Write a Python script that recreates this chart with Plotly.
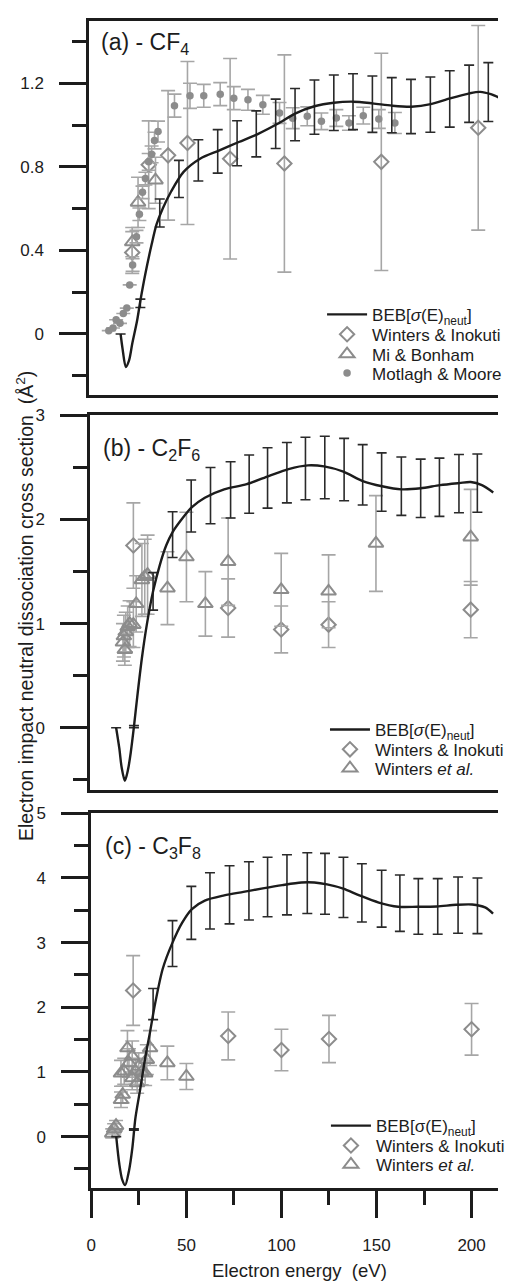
import plotly.graph_objects as go

# ---------------- (a) CF4 ----------------
beb_a_E = [15.5, 16.5, 18.2, 19.9, 21.5, 24.0, 25.7, 28.2, 31.5, 34.0, 37.3, 41.5, 48.0, 56.5, 66.5,
           76.5, 86.5, 96.5, 105.5, 115.5, 125.5, 135.5, 145.5, 155.5, 165.5, 175.5, 185.5, 195.5,
           201.0, 206.5, 211.0]
beb_a_V = [0.0, -0.07, -0.158, -0.125, -0.047, 0.063, 0.159, 0.285, 0.428, 0.523, 0.602, 0.681, 0.776,
           0.839, 0.879, 0.919, 0.958, 1.006, 1.055, 1.09, 1.107, 1.112, 1.104, 1.093, 1.088, 1.100,
           1.128, 1.152, 1.159, 1.148, 1.13]
bebbar_a_E = [15.5, 25.7, 35.7, 45.6, 55.6, 65.6, 75.6, 85.5, 95.5, 105.5, 115.5, 125.5, 135.4,
              145.4, 155.4, 165.3, 175.3, 185.3, 195.3, 205.2]
bebbar_a_V = [0.0, 0.147, 0.579, 0.742, 0.831, 0.874, 0.913, 0.958, 1.006, 1.05, 1.086, 1.107, 1.112,
              1.10, 1.095, 1.089, 1.098, 1.125, 1.15, 1.158]
bebbar_a_err = [0.0, 0.02, 0.067, 0.089, 0.099, 0.104, 0.108, 0.11, 0.118, 0.125, 0.13, 0.133, 0.134,
                0.135, 0.132, 0.13, 0.132, 0.135, 0.137, 0.141]

wi_a_E = [21.5, 30.0, 40.0, 50.0, 72.0, 100.0, 150.0, 200.0]
wi_a_V = [0.39, 0.81, 0.855, 0.914, 0.839, 0.816, 0.824, 0.987]
wi_a_err = [0.10, 0.21, 0.31, 0.39, 0.48, 0.52, 0.52, 0.49]

mb_a_E = [21.5, 24.5, 33.5]
mb_a_V = [0.44, 0.63, 0.736]
mb_a_err = [0.07, 0.12, 0.11]

mm_a_E = [9.4, 11.6, 13.2, 15.2, 16.9, 18.7, 20.2, 21.7, 23.7, 25.2, 26.8, 28.3, 30.0, 31.5, 33.0, 34.8,
          43.3, 51.3, 58.4, 66.9, 73.9, 81.2, 88.9, 97.5, 104.3, 111.8, 119.1, 126.8, 133.3, 140.7,
          148.7, 157.0]
mm_a_V = [0.016, 0.029, 0.068, 0.051, 0.098, 0.124, 0.235, 0.33, 0.466, 0.573, 0.678, 0.744, 0.824, 0.86,
          0.926, 0.969, 1.093, 1.14, 1.14, 1.148, 1.129, 1.121, 1.097, 1.058, 1.033, 1.042, 1.018,
          1.034, 1.01, 1.045, 1.029, 1.01]
mm_a_err = [0, 0, 0, 0, 0, 0, 0, 0.03, 0.03, 0.03, 0.03, 0.03, 0.04, 0.04, 0.04, 0.05, 0.055, 0.06, 0.055,
            0.055, 0.055, 0.05, 0.045, 0.05, 0.05, 0.045, 0.04, 0.04, 0.035, 0.04, 0.045, 0.05]

# ---------------- (b) C2F6 ----------------
beb_b_E = [12.9, 14.6, 15.8, 17.5, 19.2, 20.6, 22.3, 24.0, 26.5, 29.1, 32.4, 35.9, 39.3, 42.7, 47.8,
           52.9, 59.7, 69.9, 81.8, 93.7, 103.9, 114.1, 122.6, 132.8, 143.0, 153.2, 163.4, 173.6,
           183.8, 194.0, 200.0, 205.9, 211.9]
beb_b_V = [0.0, -0.2, -0.38, -0.51, -0.4, -0.24, 0.01, 0.29, 0.67, 0.99, 1.31, 1.56, 1.75, 1.88, 2.01,
           2.12, 2.21, 2.29, 2.34, 2.42, 2.485, 2.52, 2.51, 2.46, 2.37, 2.32, 2.29, 2.30, 2.33, 2.35,
           2.36, 2.33, 2.26]
bebbar_b_E = [12.9, 22.3, 32.4, 42.7, 52.5, 62.7, 73.3, 83.1, 92.8, 103.0, 112.8, 123.0, 133.2, 143.0,
              153.0, 163.4, 173.6, 183.5, 193.8, 203.5]
bebbar_b_V = [0.0, 0.01, 1.31, 1.855, 2.13, 2.23, 2.285, 2.34, 2.40, 2.45, 2.49, 2.50, 2.48, 2.43,
              2.36, 2.32, 2.30, 2.31, 2.345, 2.35]
bebbar_b_err = [0.0, 0.01, 0.18, 0.22, 0.25, 0.27, 0.27, 0.28, 0.29, 0.29, 0.30, 0.30, 0.30, 0.29,
                0.28, 0.28, 0.28, 0.28, 0.28, 0.28]

wi_b_E = [22.0, 72.0, 100.0, 125.0, 200.0]
wi_b_V = [1.75, 1.15, 0.944, 0.99, 1.134]
wi_b_err = [0.41, 0.28, 0.225, 0.22, 0.27]

we_b_E = [16.5, 17.0, 17.5, 18.0, 19.0, 20.0, 22.0, 23.5, 26.5, 28.0, 29.5, 40.0, 50.0, 60.0, 72.0,
          100.0, 125.0, 150.0, 200.0]
we_b_V = [0.82, 0.88, 0.75, 0.92, 0.97, 1.0, 0.99, 1.19, 1.42, 1.45, 1.47, 1.34, 1.64, 1.19, 1.595,
          1.325, 1.31, 1.77, 1.83]
we_b_err = [0.18, 0.2, 0.15, 0.19, 0.2, 0.22, 0.22, 0.27, 0.35, 0.36, 0.38, 0.35, 0.43, 0.31, 0.42,
            0.35, 0.35, 0.46, 0.46]

# ---------------- (c) C3F8 ----------------
beb_c_E = [13.1, 14.7, 16.2, 17.8, 19.8, 21.6, 23.2, 25.8, 28.3, 30.9, 33.5, 37.6, 42.7, 47.8, 52.9,
           59.7, 69.9, 80.0, 90.2, 100.4, 110.5, 117.3, 124.0, 132.5, 141.0, 151.2, 161.4, 171.5,
           181.7, 191.9, 200.3, 207.1, 211.3]
beb_c_V = [0.0, -0.42, -0.66, -0.75, -0.53, -0.17, 0.29, 0.75, 1.21, 1.62, 2.05, 2.6, 3.0, 3.31, 3.52,
           3.65, 3.73, 3.785, 3.84, 3.89, 3.93, 3.93, 3.90, 3.835, 3.73, 3.62, 3.555, 3.555, 3.56,
           3.585, 3.59, 3.545, 3.45]
bebbar_c_E = [13.1, 22.4, 32.5, 42.7, 52.6, 62.4, 72.7, 82.9, 92.7, 102.9, 113.6, 122.9, 132.6, 142.3,
              152.7, 162.3, 172.0, 182.2, 192.9, 203.1]
bebbar_c_V = [0.0, 0.11, 2.05, 2.985, 3.46, 3.645, 3.74, 3.80, 3.86, 3.895, 3.92, 3.91, 3.855, 3.77,
              3.68, 3.61, 3.56, 3.56, 3.58, 3.57]
bebbar_c_err = [0.0, 0.01, 0.24, 0.355, 0.41, 0.435, 0.45, 0.45, 0.46, 0.465, 0.47, 0.47, 0.465, 0.45,
                0.44, 0.435, 0.43, 0.43, 0.435, 0.43]

wi_c_E = [22.0, 72.0, 100.0, 125.0, 200.0]
wi_c_V = [2.26, 1.557, 1.34, 1.51, 1.66]
wi_c_err = [0.54, 0.37, 0.32, 0.365, 0.40]

we_c_E = [11.0, 12.0, 13.0, 15.6, 16.5, 15.6, 17.3, 19.0, 19.8, 21.5, 21.5, 23.2, 24.1, 24.9, 26.5,
          28.3, 29.2, 30.9, 40.0, 50.0]
we_c_V = [0.05, 0.12, 0.17, 0.57, 0.65, 0.98, 1.01, 1.37, 1.14, 1.24, 0.906, 1.01, 0.83, 1.086, 1.0,
          0.98, 1.19, 1.37, 1.14, 0.93]
we_c_err = [0.07, 0.08, 0.08, 0.12, 0.13, 0.2, 0.2, 0.27, 0.22, 0.24, 0.18, 0.2, 0.16, 0.21, 0.2,
            0.19, 0.23, 0.27, 0.26, 0.2]

# ---------------- styling ----------------
FONT = "Liberation Sans, Arial, Helvetica, sans-serif"
INK = "#1c1c1c"
GREY = "#8c8c8c"
GREY_BAR = "#a6a6a6"
W, H = 510, 1283


def py(px):
    """pixel row (from top) -> paper y"""
    return 1 - px / H


fig = go.Figure()
legend_rows = {}   # legend id -> (text left px, row centre px)


def add_panel(n, beb_E, beb_V, bar_E, bar_V, bar_err, series, rows, text_x, sigma_italic=True):
    xa = "x" if n == 1 else f"x{n}"
    ya = "y" if n == 1 else f"y{n}"
    sig = "<i>σ</i>" if sigma_italic else "σ"
    ids = [f"legend{n}{k}" for k in range(len(rows))]
    for lid, row in zip(ids, rows):
        legend_rows[lid] = (text_x, row)
    # experimental data (grey) first so the BEB curve sits on top
    for lid, (name, E, V, err, sym, size, lw) in zip(ids[1:], series):
        fig.add_trace(go.Scatter(
            x=E, y=V, mode="markers", xaxis=xa, yaxis=ya, legend=lid, name=name,
            error_y=dict(type="data", array=err, visible=True, color=GREY_BAR,
                         thickness=1.6, width=7),
            marker=dict(symbol=sym, size=size, color=GREY, line=dict(color=GREY, width=lw)),
        ))
    # BEB uncertainty bars
    fig.add_trace(go.Scatter(
        x=bar_E, y=bar_V, mode="markers", xaxis=xa, yaxis=ya, showlegend=False,
        marker=dict(size=1, color="rgba(0,0,0,0)"),
        error_y=dict(type="data", array=bar_err, visible=True, color="#2a2a2a",
                     thickness=1.6, width=5),
        hoverinfo="skip",
    ))
    # BEB curve
    fig.add_trace(go.Scatter(
        x=beb_E, y=beb_V, mode="lines", xaxis=xa, yaxis=ya, legend=ids[0],
        name=f"BEB[{sig}(E)<sub>neut</sub>]",
        line=dict(color=INK, width=2.4, shape="spline", smoothing=0.8),
    ))


add_panel(1, beb_a_E, beb_a_V, bebbar_a_E, bebbar_a_V, bebbar_a_err, [
    ("Winters &amp; Inokuti", wi_a_E, wi_a_V, wi_a_err, "diamond-open", 11, 2),
    ("Mi &amp; Bonham", mb_a_E, mb_a_V, mb_a_err, "triangle-up-open", 13, 2),
    ("Motlagh &amp; Moore", mm_a_E, mm_a_V, mm_a_err, "circle", 7.5, 0),
], rows=[308, 328, 348, 367], text_x=378)
add_panel(2, beb_b_E, beb_b_V, bebbar_b_E, bebbar_b_V, bebbar_b_err, [
    ("Winters &amp; Inokuti", wi_b_E, wi_b_V, wi_b_err, "diamond-open", 11, 2),
    ("Winters <i>et al.</i>", we_b_E, we_b_V, we_b_err, "triangle-up-open", 13, 2),
], rows=[726, 746, 765], text_x=381)
add_panel(3, beb_c_E, beb_c_V, bebbar_c_E, bebbar_c_V, bebbar_c_err, [
    ("Winters &amp; Inokuti", wi_c_E, wi_c_V, wi_c_err, "diamond-open", 11, 2),
    ("Winters <i>et al.</i>", we_c_E, we_c_V, we_c_err, "triangle-up-open", 13, 2),
], rows=[1125, 1145, 1164], text_x=382, sigma_italic=False)

# panel boxes (top, bottom pixel rows) and left edge (pixel column)
panels = {
    1: dict(top=11.7, bottom=388.3, left=87.3, xr=[-0.6, 210.2], yr=[-0.29, 1.5], dt=0.4, mdt=0.2),
    2: dict(top=409.3, bottom=786.7, left=88.3, xr=[-0.7, 214.4], yr=[-0.6, 3.0], dt=1, mdt=0.5),
    3: dict(top=810.0, bottom=1187.7, left=89.3, xr=[0, 213.9], yr=[-0.8, 5.0], dt=1, mdt=0.5),
}

axis_font = dict(family=FONT, size=17, color=INK)
layout = {}
for n, p in panels.items():
    sx = "xaxis" if n == 1 else f"xaxis{n}"
    sy = "yaxis" if n == 1 else f"yaxis{n}"
    ax_x = "x" if n == 1 else f"x{n}"
    ax_y = "y" if n == 1 else f"y{n}"
    xdict = dict(domain=[p["left"] / W, 1], range=p["xr"], anchor=ax_y,
                 showline=True, linecolor=INK, linewidth=3, mirror=True,
                 showgrid=False, zeroline=False, fixedrange=True)
    if n == 3:
        xdict.update(ticks="outside", ticklen=27, tickwidth=2.5, tickcolor=INK,
                     tick0=0, dtick=50, tickfont=axis_font, ticklabelstandoff=12,
                     minor=dict(ticks="outside", ticklen=14, tickwidth=2.5, tickcolor=INK,
                                dtick=25, tick0=0))
    else:
        xdict.update(ticks="", showticklabels=False)
    layout[sx] = xdict
    layout[sy] = dict(domain=[py(p["bottom"]), py(p["top"])], range=p["yr"], anchor=ax_x,
                      showline=True, linecolor=INK, linewidth=3, mirror=False,
                      showgrid=False, zeroline=False, fixedrange=True,
                      ticks="outside", ticklen=27, tickwidth=2.5, tickcolor=INK,
                      tick0=0, dtick=p["dt"], tickfont=axis_font, ticklabelstandoff=12,
                      minor=dict(ticks="outside", ticklen=14, tickwidth=2.5, tickcolor=INK,
                                 dtick=p["mdt"], tick0=0))

# one legend per row so every entry sits exactly on its own line
legend_font = dict(family=FONT, size=17, color=INK)
for lid, (tx, row) in legend_rows.items():
    layout[lid] = dict(font=legend_font, bgcolor="rgba(0,0,0,0)", borderwidth=0,
                       x=(tx - 50) / W, y=py(row), xanchor="left", yanchor="middle",
                       itemwidth=40, itemclick=False, itemdoubleclick=False)

title_font = dict(family=FONT, size=23, color=INK)
annotations = [
    dict(text="(a) - CF<sub>4</sub>", x=97 / W, y=py(35), xref="paper", yref="paper",
         xanchor="left", yanchor="middle", showarrow=False, font=title_font),
    dict(text="(b) - C<sub>2</sub>F<sub>6</sub>", x=99 / W, y=py(444), xref="paper", yref="paper",
         xanchor="left", yanchor="middle", showarrow=False, font=title_font),
    dict(text="(c) - C<sub>3</sub>F<sub>8</sub>", x=101 / W, y=py(844), xref="paper", yref="paper",
         xanchor="left", yanchor="middle", showarrow=False, font=title_font),
    dict(text="Electron energy\u00a0 (eV)", x=305 / W, y=0, xref="paper", yref="paper",
         xanchor="center", yanchor="bottom", showarrow=False,
         font=dict(family=FONT, size=18.5, color=INK)),
    dict(text="Electron impact neutral dissociation cross section\u00a0 (Å<sup>2</sup>)",
         x=20 / W, y=py(601), xref="paper", yref="paper", textangle=-90,
         xanchor="center", yanchor="middle", showarrow=False,
         font=dict(family=FONT, size=19.5, color=INK)),
]

fig.update_layout(
    width=W, height=H, margin=dict(l=0, r=0, t=0, b=0),
    paper_bgcolor="white", plot_bgcolor="white",
    font=dict(family=FONT, color=INK),
    annotations=annotations, **layout,
)

fig.write_html("out.html", post_script="document.body.style.margin='0';")
